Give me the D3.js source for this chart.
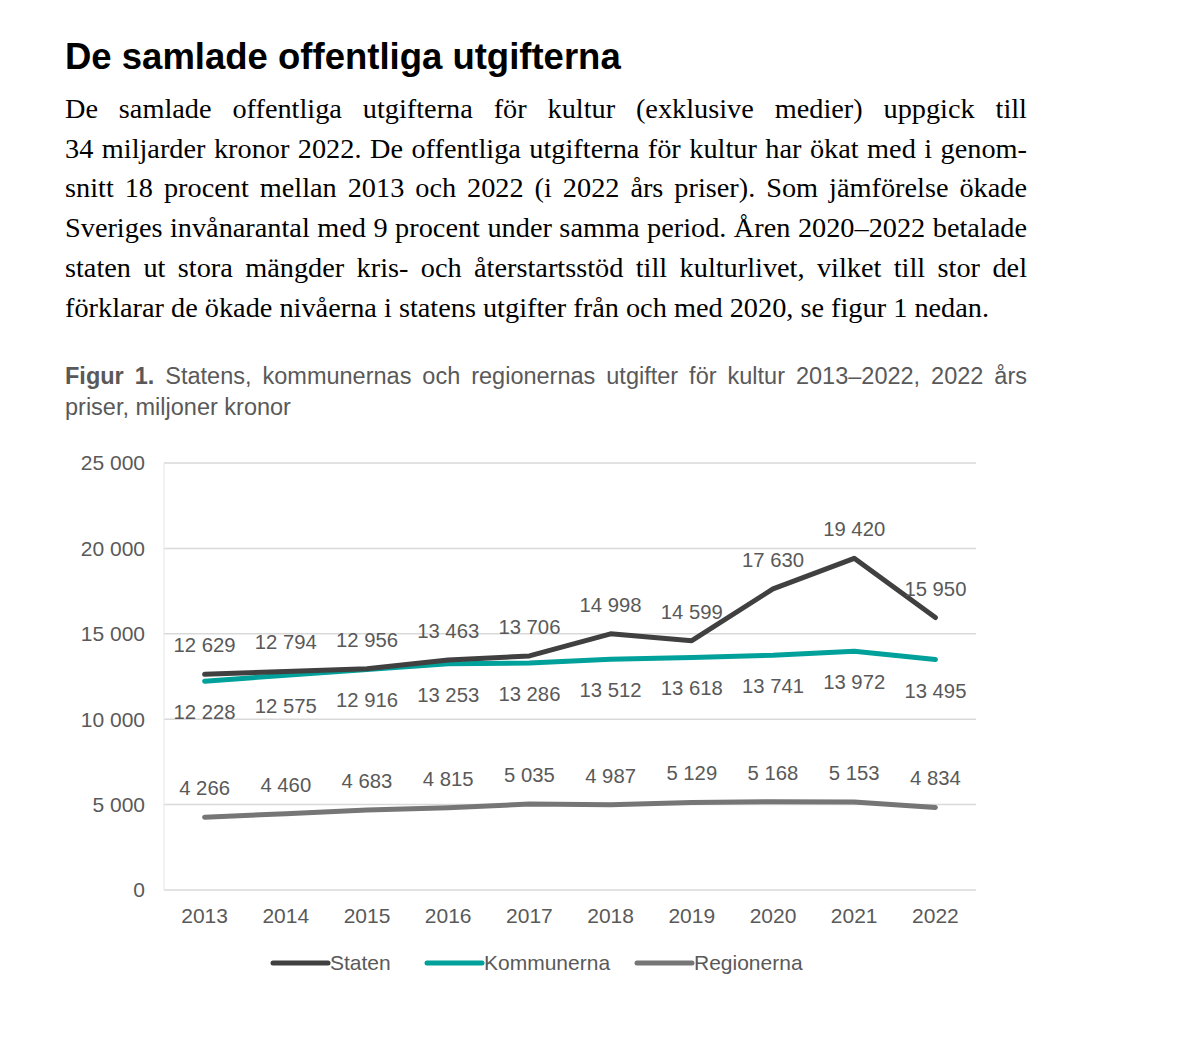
<!DOCTYPE html>
<html>
<head>
<meta charset="utf-8">
<script src="https://cdn.jsdelivr.net/npm/d3@7"></script>
<style>
body { margin: 0; background: #fff; }
#page { position: relative; width: 1190px; height: 1053px; }
h1 { position: absolute; left: 65px; top: 39px; margin: 0; font: bold 36.5px/1 "Liberation Sans", Arial, sans-serif; color: #000; }
#body { position: absolute; left: 65px; top: 89px; width: 962px; font: 28.3px "Liberation Serif", "Times New Roman", serif; color: #000; line-height: 39.7px; }
#body div, #caption div { text-align: justify; text-align-last: justify; white-space: nowrap; }
#body div.last, #caption div.last { text-align-last: left; }
#caption { position: absolute; left: 65px; top: 361px; width: 962px; font: 23.5px "Liberation Sans", Arial, sans-serif; color: #595959; line-height: 31px; }
svg { position: absolute; left: 0; top: 0; }
</style>
</head>
<body>
<div id="page">
<h1>De samlade offentliga utgifterna</h1>
<div id="body">
<div>De samlade offentliga utgifterna för kultur (exklusive medier) uppgick till</div>
<div>34 miljarder kronor 2022. De offentliga utgifterna för kultur har ökat med i genom-</div>
<div>snitt 18 procent mellan 2013 och 2022 (i 2022 års priser). Som jämförelse ökade</div>
<div>Sveriges invånarantal med 9 procent under samma period. Åren 2020–2022 betalade</div>
<div>staten ut stora mängder kris- och återstartsstöd till kulturlivet, vilket till stor del</div>
<div class="last">förklarar de ökade nivåerna i statens utgifter från och med 2020, se figur 1 nedan.</div>
</div>
<div id="caption">
<div><b>Figur 1.</b> Statens, kommunernas och regionernas utgifter för kultur 2013–2022, 2022 års</div>
<div class="last">priser, miljoner kronor</div>
</div>
<svg id="chart" width="1190" height="1053"></svg>
</div>
<script>
// data
var years = ["2013", "2014", "2015", "2016", "2017", "2018", "2019", "2020", "2021", "2022"];
var staten = [12629, 12794, 12956, 13463, 13706, 14998, 14599, 17630, 19420, 15950];
var kommunerna = [12228, 12575, 12916, 13253, 13286, 13512, 13618, 13741, 13972, 13495];
var regionerna = [4266, 4460, 4683, 4815, 5035, 4987, 5129, 5168, 5153, 4834];
var yTicks = [0, 5000, 10000, 15000, 20000, 25000];

var series = [
    { name: "Staten", values: staten, color: "#404040", labelPos: "above" },
    { name: "Kommunerna", values: kommunerna, color: "#00a19a", labelPos: "below" },
    { name: "Regionerna", values: regionerna, color: "#767676", labelPos: "above" }
];

var svg = d3.select("#chart"),
    margin = { top: 463, left: 164, right: 214, bottom: 163 },
    width = +svg.attr("width") - margin.left - margin.right,
    height = +svg.attr("height") - margin.top - margin.bottom;

var font = "Liberation Sans, Arial, sans-serif";

var fmt = function(v) {
    return d3.format(",")(v).replace(/,/g, " ");
};

var x = d3.scaleBand().domain(years).range([0, width]).paddingInner(0).paddingOuter(0);
var y = d3.scaleLinear().domain([0, 25000]).range([height, 0]);
var cx = function(i) { return x(years[i]) + x.bandwidth() / 2; };

var g = svg.append("g")
    .attr("transform", "translate(" + margin.left + "," + margin.top + ")");

// grid
g.selectAll("line.grid")
    .data(yTicks)
    .enter()
    .append("line")
    .attr("class", "grid")
    .attr("x1", 0)
    .attr("x2", width)
    .attr("y1", function(d) { return y(d); })
    .attr("y2", function(d) { return y(d); })
    .attr("stroke", "#d9d9d9")
    .attr("stroke-width", 1.5);

g.append("line")
    .attr("x1", 0).attr("x2", 0)
    .attr("y1", 0).attr("y2", height)
    .attr("stroke", "#e6e6e6")
    .attr("stroke-width", 1);

// y labels
g.selectAll("text.ytick")
    .data(yTicks)
    .enter()
    .append("text")
    .attr("class", "ytick")
    .attr("x", -19)
    .attr("y", function(d) { return y(d); })
    .attr("dy", "0.35em")
    .attr("text-anchor", "end")
    .attr("font-family", font)
    .attr("font-size", 21)
    .attr("fill", "#595959")
    .text(fmt);

// x labels
g.selectAll("text.xtick")
    .data(years)
    .enter()
    .append("text")
    .attr("class", "xtick")
    .attr("x", function(d) { return x(d) + x.bandwidth() / 2; })
    .attr("y", height + 33)
    .attr("text-anchor", "middle")
    .attr("font-family", font)
    .attr("font-size", 21)
    .attr("fill", "#595959")
    .text(function(d) { return d; });

var line = d3.line()
    .x(function(d, i) { return cx(i); })
    .y(function(d) { return y(d); });

// Regionerna first, Staten on top
[2, 1, 0].forEach(function(k) {
    var s = series[k];
    g.append("path")
        .datum(s.values)
        .attr("fill", "none")
        .attr("stroke", s.color)
        .attr("stroke-width", 5)
        .attr("stroke-linejoin", "round")
        .attr("stroke-linecap", "round")
        .attr("d", line);
});

series.forEach(function(s) {
    g.selectAll(null)
        .data(s.values)
        .enter()
        .append("text")
        .attr("x", function(d, i) { return cx(i); })
        .attr("y", function(d) { return s.labelPos == "above" ? y(d) - 22 : y(d) + 38; })
        .attr("text-anchor", "middle")
        .attr("font-family", font)
        .attr("font-size", 20.3)
        .attr("fill", "#595959")
        .text(fmt);
});

// legend
var legendX = [273, 427, 637];
var legend = svg.append("g").attr("transform", "translate(0,963)");
series.forEach(function(s, i) {
    legend.append("line")
        .attr("x1", legendX[i]).attr("x2", legendX[i] + 55)
        .attr("y1", 0).attr("y2", 0)
        .attr("stroke", s.color)
        .attr("stroke-width", 5)
        .attr("stroke-linecap", "round");
    legend.append("text")
        .attr("x", legendX[i] + 57)
        .attr("y", 0)
        .attr("dy", "0.35em")
        .attr("font-family", font)
        .attr("font-size", 21)
        .attr("fill", "#595959")
        .text(s.name);
});
</script>
</body>
</html>
